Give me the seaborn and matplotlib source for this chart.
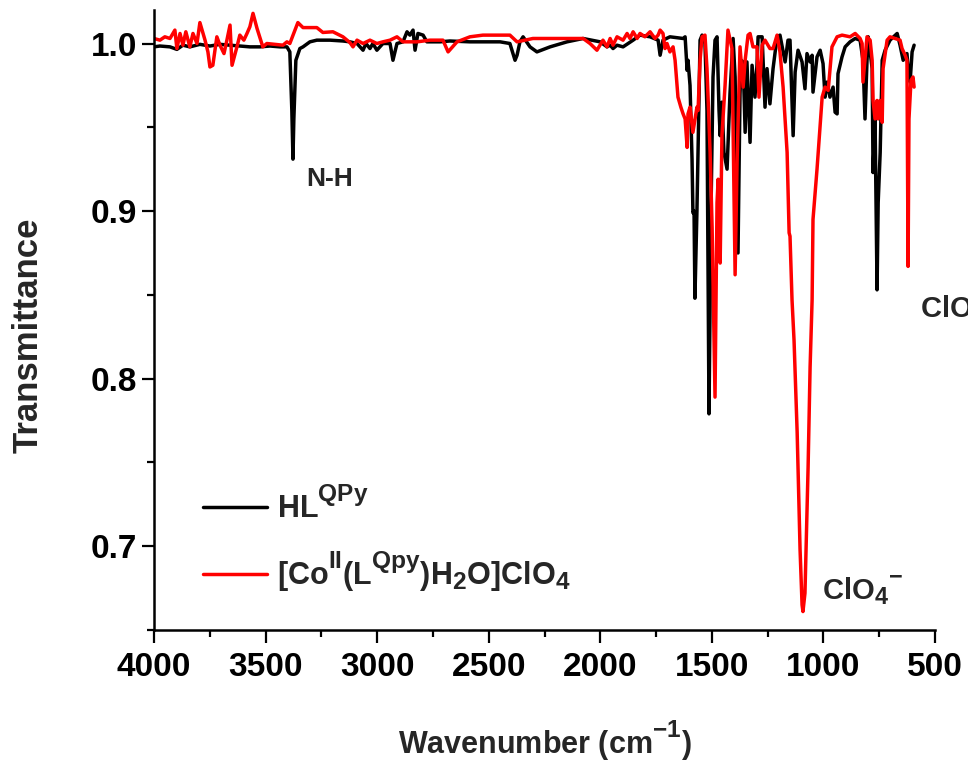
import matplotlib
matplotlib.use("Agg")
import matplotlib.pyplot as plt
import matplotlib._mathtext as mathtext_internals
from matplotlib.ticker import MultipleLocator, FormatStrFormatter
import seaborn as sns

# FT-IR spectra (wavenumber in cm-1, transmittance)
# HL^QPy ligand, black trace
ligand_wn = [4000, 3973, 3928, 3897, 3870, 3839, 3794, 3749, 3704, 3659, 3615, 3570, 3525, 3480,
             3435, 3404, 3391, 3382, 3377, 3373, 3364, 3346, 3332, 3301, 3270, 3211, 3153, 3122,
             3090, 3063, 3050, 3032, 3019, 3001, 2974, 2942, 2929, 2911, 2884, 2866, 2853, 2839,
             2830, 2817, 2794, 2777, 2718, 2674, 2584, 2449, 2405, 2382, 2373, 2360, 2346, 2315,
             2284, 2225, 2149, 2077, 2001, 1970, 1956, 1943, 1925, 1898, 1853, 1822, 1777, 1741,
             1732, 1719, 1688, 1629, 1620, 1611, 1607, 1598, 1589, 1585, 1580, 1576, 1567, 1553,
             1544, 1531, 1522, 1513, 1504, 1495, 1486, 1477, 1468, 1463, 1455, 1446, 1432, 1419,
             1405, 1396, 1383, 1374, 1369, 1360, 1351, 1343, 1329, 1320, 1307, 1298, 1293, 1275,
             1262, 1253, 1240, 1226, 1208, 1195, 1172, 1159, 1150, 1136, 1127, 1114, 1096, 1083,
             1074, 1060, 1051, 1047, 1029, 1015, 1002, 993, 984, 971, 957, 948, 939, 935, 917,
             903, 881, 858, 836, 823, 814, 805, 800, 791, 782, 778, 769, 760, 755, 746, 737, 724,
             702, 670, 657, 643, 626, 621, 612, 603, 594]
ligand_t = [0.998, 0.9985, 0.998, 0.9965, 0.999, 0.998, 0.9995, 0.9985, 0.9995, 0.999, 0.9985, 0.998,
            0.998, 0.9985, 0.998, 0.998, 0.995, 0.960, 0.931, 0.955, 0.990, 0.997, 0.998, 1.001,
            1.002, 1.002, 1.0015, 1.001, 1.000, 0.996, 1.000, 0.997, 1.000, 0.996, 1.000, 1.000,
            0.990, 1.000, 1.001, 1.007, 1.005, 1.008, 0.996, 1.006, 1.005, 1.001, 1.001, 1.0015,
            1.001, 1.001, 1.000, 0.990, 0.993, 1.001, 1.004, 0.998, 0.995, 0.998, 1.001, 1.003,
            1.001, 0.998, 0.999, 0.997, 0.999, 0.998, 1.002, 1.005, 1.004, 1.002, 0.993, 1.002,
            1.004, 1.003, 1.004, 0.984, 0.990, 0.975, 0.931, 0.899, 0.900, 0.848, 0.900, 1.002,
            1.005, 1.000, 0.960, 0.779, 0.900, 0.980, 1.002, 1.004, 0.960, 0.945, 0.965, 0.935,
            0.925, 0.970, 1.003, 0.980, 0.875, 0.970, 0.990, 0.989, 0.947, 0.989, 0.941, 0.987,
            0.968, 0.987, 1.004, 1.004, 0.962, 0.985, 0.964, 0.985, 1.004, 1.005, 0.989, 1.002,
            1.002, 0.945, 0.983, 0.996, 0.989, 0.973, 0.994, 0.989, 0.993, 0.971, 0.992, 0.996,
            0.988, 0.968, 0.977, 0.968, 0.974, 0.959, 0.958, 0.982, 0.992, 0.998, 1.001, 1.003,
            1.002, 0.990, 0.955, 0.990, 1.004, 0.995, 0.985, 0.923, 0.955, 0.853, 0.905, 0.935,
            0.990, 0.996, 1.002, 1.006, 0.999, 0.990, 0.994, 0.985, 0.977, 0.995, 0.999]

# [Co(II)(L^Qpy)H2O]ClO4 complex, red trace
complex_wn = [4000, 3973, 3951, 3928, 3906, 3897, 3883, 3870, 3857, 3839, 3825, 3807, 3794, 3771,
              3758, 3749, 3736, 3718, 3704, 3686, 3673, 3659, 3650, 3628, 3615, 3597, 3583, 3570,
              3556, 3538, 3512, 3494, 3458, 3422, 3404, 3391, 3355, 3332, 3270, 3243, 3198, 3153,
              3122, 3108, 3090, 3063, 3032, 3001, 2974, 2942, 2911, 2884, 2821, 2763, 2705, 2682,
              2642, 2584, 2526, 2405, 2373, 2302, 2077, 2046, 2015, 1988, 1970, 1956, 1943, 1925,
              1898, 1880, 1867, 1853, 1835, 1822, 1800, 1777, 1755, 1741, 1732, 1719, 1710, 1701,
              1688, 1674, 1665, 1652, 1639, 1629, 1620, 1611, 1607, 1598, 1585, 1567, 1562, 1553,
              1544, 1531, 1522, 1508, 1499, 1486, 1477, 1472, 1463, 1455, 1441, 1428, 1410, 1396,
              1387, 1374, 1360, 1351, 1338, 1329, 1316, 1298, 1289, 1275, 1262, 1240, 1226, 1208,
              1195, 1181, 1163, 1154, 1150, 1141, 1132, 1118, 1105, 1096, 1092, 1083, 1074, 1069,
              1060, 1051, 1047, 1029, 1006, 993, 979, 962, 939, 917, 881, 858, 836, 827, 823, 805,
              791, 782, 778, 769, 760, 755, 746, 737, 733, 715, 702, 679, 657, 648, 634, 626, 621,
              617, 608, 599, 594]
complex_t = [1.003, 1.002, 1.004, 1.003, 1.008, 0.997, 1.006, 0.999, 1.007, 0.998, 1.006, 1.000,
             1.0125, 1.002, 0.995, 0.986, 0.987, 1.004, 0.999, 0.994, 1.002, 1.011, 0.987, 0.998,
             1.005, 1.002, 1.006, 1.010, 1.018, 1.009, 0.998, 1.000, 0.9995, 0.999, 1.001, 1.000,
             1.0125, 1.0095, 1.0095, 1.0066, 1.007, 1.004, 1.0006, 0.998, 1.002, 1.000, 1.002,
             1.000, 1.001, 1.002, 1.004, 1.001, 1.001, 1.002, 1.002, 0.995, 1.001, 1.004, 1.005,
             1.005, 1.001, 1.003, 1.003, 1.000, 0.996, 1.002, 0.998, 1.003, 0.999, 1.004, 1.002,
             1.006, 1.003, 1.007, 1.003, 1.006, 1.004, 1.007, 1.003, 1.005, 1.008, 1.006, 0.997,
             1.000, 0.995, 0.998, 0.990, 0.968, 0.962, 0.958, 0.955, 0.938, 0.958, 0.962, 0.947,
             0.962, 0.960, 0.990, 1.004, 1.005, 0.985, 0.935, 0.890, 0.789, 0.905, 0.919, 0.869,
             0.945, 0.975, 1.008, 0.997, 0.862, 0.930, 0.998, 0.974, 0.990, 1.005, 1.006, 0.998,
             0.998, 0.968, 0.999, 1.002, 0.997, 0.997, 1.005, 0.995, 0.974, 0.935, 0.887, 0.885,
             0.847, 0.823, 0.768, 0.698, 0.665, 0.661, 0.672, 0.720, 0.747, 0.807, 0.847, 0.895,
             0.925, 0.968, 0.974, 0.972, 0.998, 1.004, 1.005, 1.004, 1.006, 1.003, 1.000, 0.977,
             1.004, 1.002, 0.990, 0.966, 0.955, 0.966, 0.955, 0.966, 0.953, 0.985, 1.002, 1.004,
             1.003, 1.002, 0.997, 0.993, 0.990, 0.867, 0.955, 0.978, 0.980, 0.974]

ligand_label = r'$HL^{QPy}$'
complex_label = r'$[Co^{II}(L^{Qpy})H_2O]ClO_4$'
perchlorate_label = r'$ClO_4{}^{-}$'

sns.set_style("ticks")
plt.rcParams['font.family'] = ['Liberation Sans', 'DejaVu Sans']
plt.rcParams['font.weight'] = 'bold'
plt.rcParams['mathtext.fontset'] = 'custom'
plt.rcParams['mathtext.rm'] = 'Liberation Sans:bold'
plt.rcParams['mathtext.bf'] = 'Liberation Sans:bold'
plt.rcParams['mathtext.it'] = 'Liberation Sans:bold'
plt.rcParams['mathtext.default'] = 'bf'
# bigger, higher super/subscripts like the original (Origin) labels
mathtext_internals.SHRINK_FACTOR = 0.8
mathtext_internals.FontConstantsBase.sup1 = 0.95

fig = plt.figure(figsize=(9.68, 7.63), dpi=100)
ax = fig.add_axes([0.159, 0.1743, 0.807, 0.8126])

sns.lineplot(x=ligand_wn, y=ligand_t, color='black', lw=2.5, sort=False, estimator=None,
             label=ligand_label, ax=ax)
sns.lineplot(x=complex_wn, y=complex_t, color='#ff0000', lw=2.5, sort=False, estimator=None,
             label=complex_label, ax=ax)

ax.set_xlim(4000, 500)
ax.set_ylim(0.65, 1.02)
ax.xaxis.set_major_locator(MultipleLocator(500))
ax.xaxis.set_minor_locator(MultipleLocator(250))
ax.yaxis.set_major_locator(MultipleLocator(0.1))
ax.yaxis.set_minor_locator(MultipleLocator(0.05))
ax.yaxis.set_major_formatter(FormatStrFormatter('%.1f'))
sns.despine(ax=ax)
for side in ['left', 'bottom']:
    ax.spines[side].set_linewidth(1.8)
    ax.spines[side].set_color('black')
ax.tick_params(which='major', direction='out', length=9, width=1.6, labelsize=24, colors='black')
ax.tick_params(which='minor', direction='out', length=5, width=1.6, colors='black')
ax.tick_params(axis='x', which='major', pad=7)
ax.tick_params(axis='y', which='major', pad=3)

ax.set_xlabel(r'Wavenumber (cm$^{-1}$)', fontsize=22, fontweight='bold')
ax.set_ylabel('Transmittance', fontsize=25, fontweight='bold')
ax.xaxis.set_label_coords(0.5, -0.142)
ax.yaxis.set_label_coords(-0.14, 0.476)

ax.text(3211, 0.919, 'N-H', ha='center', va='center', fontsize=19, fontweight='bold')
ax.text(1006, 0.668, perchlorate_label, ha='left', va='baseline', fontsize=21)
ax.text(567, 0.836, perchlorate_label, ha='left', va='baseline', fontsize=21)

ax.legend(loc='upper left', bbox_to_anchor=(0.027, 0.275), frameon=False, fontsize=22,
          handlelength=2.1, handletextpad=0.35, labelspacing=0.8)

fig.savefig('out.png', dpi=100)
